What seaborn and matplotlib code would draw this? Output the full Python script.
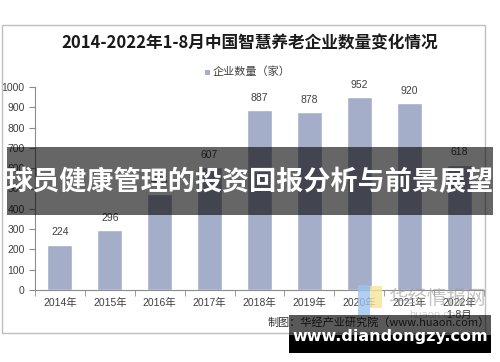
import matplotlib
matplotlib.use("Agg")
import matplotlib.pyplot as plt
import seaborn as sns
import pandas as pd
from matplotlib.patches import Rectangle

# data
years = ["2014年", "2015年", "2016年", "2017年", "2018年", "2019年", "2020年", "2021年", "2022年\n1-8月"]
counts = [224, 296, 475, 607, 887, 878, 952, 920, 618]
yticks = [0, 100, 200, 300, 400, 500, 600, 700, 800, 900, 1000]

title = "2014-2022年1-8月中国智慧养老企业数量变化情况"
legend_label = "企业数量（家）"
source = "制图：华经产业研究院（www.huaon.com）"
banner = "球员健康管理的投资回报分析与前景展望"
site = "www.diandongzy.com"

sns.set_style("white")
plt.rcParams["font.family"] = ["Liberation Sans", "Noto Sans CJK SC", "DejaVu Sans"]

bar_color = "#a5aec8"
df = pd.DataFrame({"year": years, "count": counts})

fig = plt.figure(figsize=(5, 3.62), dpi=100)
W, H = 500, 362

def fx(px):
    return px / W

def fy(py):
    return 1 - py / H

# outer frame
fig.patches.append(Rectangle((fx(2), fy(333)), fx(483), (333 - 25) / H,
                             transform=fig.transFigure, fill=False,
                             edgecolor="#bfbfbf", linewidth=1.0))

ax = fig.add_axes([fx(35), fy(290), fx(449), (290 - 87) / H])
sns.barplot(data=df, x="year", y="count", color=bar_color, width=0.5,
            saturation=1, ax=ax)
ax.set_ylim(0, 1000)
ax.set_xlim(-0.5, len(years) - 0.5)
ax.set_yticks(yticks)
ax.set_xlabel("")
ax.set_ylabel("")
for s in ["top", "right"]:
    ax.spines[s].set_visible(False)
for s in ["left", "bottom"]:
    ax.spines[s].set_color("#8c8c8c")
    ax.spines[s].set_linewidth(0.8)
ax.tick_params(axis="y", which="major", length=4, color="#8c8c8c",
               labelsize=7.5, labelcolor="#404040", direction="out", left=True)
ax.tick_params(axis="x", which="major", length=0, labelsize=7.5,
               labelcolor="#404040", pad=6)
ax.set_xticks([i - 0.5 for i in range(len(years) + 1)], minor=True)
ax.tick_params(axis="x", which="minor", length=4, color="#8c8c8c", bottom=True)

for i, v in enumerate(counts):
    ax.text(i, v + 35, str(v), ha="center", va="bottom", fontsize=7.5,
            color="#404040")

fig.text(0.5, fy(43), title, ha="center", va="center", fontsize=12,
         fontweight="bold", color="#1a1a1a",
         family=["Noto Sans CJK SC", "DejaVu Sans"])

# legend
fig.patches.append(Rectangle((fx(205), fy(75)), fx(5), 5 / H,
                             transform=fig.transFigure, facecolor=bar_color,
                             edgecolor="none"))
fig.text(fx(213), fy(72), legend_label, ha="left", va="center", fontsize=8,
         color="#404040", family=["Noto Sans CJK SC", "DejaVu Sans"])

# faint watermark logo
fig.patches.append(Rectangle((fx(358), fy(315)), fx(12), 30 / H,
                             transform=fig.transFigure, facecolor="#9cc3ee",
                             edgecolor="none", alpha=0.8))
fig.patches.append(Rectangle((fx(370), fy(308)), fx(12), 22 / H,
                             transform=fig.transFigure, facecolor="#f6e49a",
                             edgecolor="none", alpha=0.8))
fig.text(fx(437), fy(298), "华经情报网", ha="center", va="center", fontsize=14,
         color="#9a9a9a", alpha=0.6, family=["Noto Sans CJK SC"])
fig.text(fx(437), fy(315), "huaon.com", ha="center", va="center", fontsize=8,
         color="#9a9a9a", alpha=0.45)

fig.text(fx(490), fy(322), source, ha="right", va="center", fontsize=8,
         color="#333333", family=["Noto Sans CJK SC", "DejaVu Sans"])

# overlay banner
fig.patches.append(Rectangle((fx(7), fy(215)), fx(486), (215 - 147) / H,
                             transform=fig.transFigure, facecolor="black",
                             edgecolor="none", alpha=0.6, zorder=5))
fig.text(0.5, fy(182), banner, ha="center", va="center", fontsize=19.5,
         fontweight="bold", color="white", zorder=6,
         family=["Noto Sans CJK SC", "DejaVu Sans"])

# bottom site box
fig.patches.append(Rectangle((fx(289), fy(335)), fx(202), 20 / H,
                             transform=fig.transFigure, facecolor="black",
                             edgecolor="none", alpha=0.65, zorder=5))
fig.patches.append(Rectangle((fx(289), fy(353)), fx(202), 18 / H,
                             transform=fig.transFigure, facecolor="black",
                             edgecolor="none", zorder=5))
fig.text(fx(390), fy(337), site, ha="center", va="center", fontsize=11.5,
         fontweight="bold", color="white", zorder=6, family=["DejaVu Sans"])

fig.savefig("out.png", dpi=100)
